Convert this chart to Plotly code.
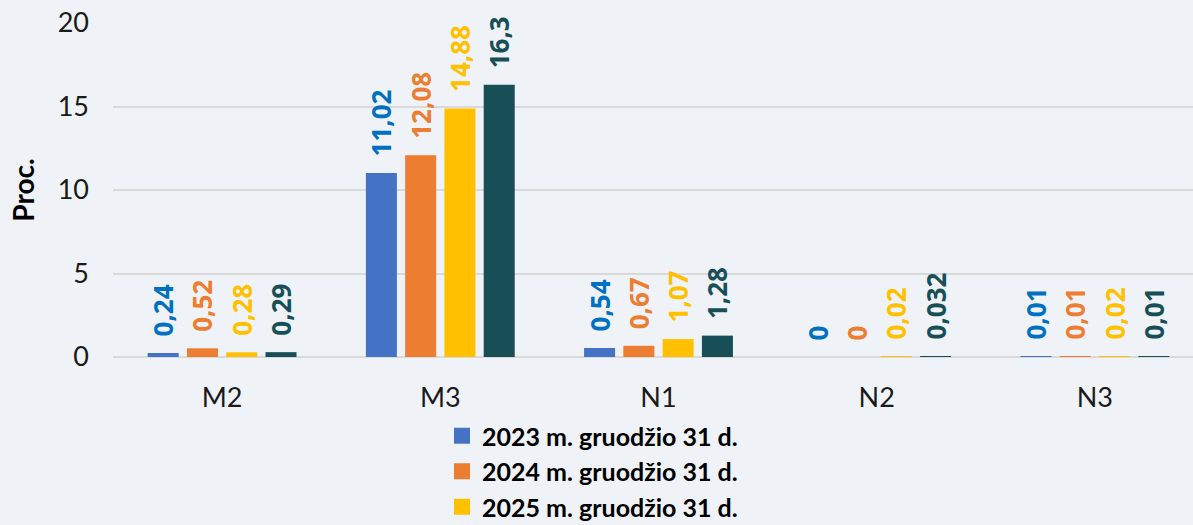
import plotly.graph_objects as go

# Categories and series values (percent)
categories = ["M2", "M3", "N1", "N2", "N3"]
series_names = [
    "2023 m. gruodžio 31 d.",
    "2024 m. gruodžio 31 d.",
    "2025 m. gruodžio 31 d.",
    "2026 m. gruodžio 31 d.",
]
values_2023 = [0.24, 11.02, 0.54, 0, 0.01]
values_2024 = [0.52, 12.08, 0.67, 0, 0.01]
values_2025 = [0.28, 14.88, 1.07, 0.02, 0.02]
values_2026 = [0.29, 16.3, 1.28, 0.032, 0.01]

bar_colors = ["#4472C4", "#ED7D31", "#FFC000", "#184F57"]
label_colors = ["#0070C0", "#ED7D31", "#FFC000", "#184F57"]
bg = "#EFF3F7"

all_values = [values_2023, values_2024, values_2025, values_2026]
legend_count = 3  # only the first three entries fit on the page


def fmt(v):
    # decimal comma, with a small lead-in so the rotated label floats above the bar
    return "\u00a0\u00a0" + f"{v:g}".replace(".", ",")


fig = go.Figure()
for i, (name, vals) in enumerate(zip(series_names, all_values)):
    fig.add_trace(
        go.Bar(
            x=categories,
            y=vals,
            name=name,
            legendgroup=name,
            marker=dict(color=bar_colors[i], line=dict(width=0)),
            text=[fmt(v) for v in vals],
            textposition="outside",
            textangle=-90,
            constraintext="none",
            cliponaxis=False,
            textfont=dict(family="Open Sans", size=26, color=label_colors[i], weight="bold"),
            showlegend=False,
            hoverinfo="skip",
        )
    )

# Legend entries with larger square swatches
for i in range(legend_count):
    fig.add_trace(
        go.Scatter(
            x=[None],
            y=[None],
            mode="markers",
            name=series_names[i],
            legendgroup=series_names[i],
            marker=dict(symbol="square", size=18, color=bar_colors[i]),
            showlegend=True,
            hoverinfo="skip",
        )
    )

plot_left = 113
plot_top = 23
plot_bottom_px = 357
plot_right_extent = 1204  # right edge of the last category band
width, height = 1193, 525
cat_w = (plot_right_extent - plot_left) / 5
x_max = 4.5 - (plot_right_extent - width) / cat_w
plot_h = plot_bottom_px - plot_top

fig.update_layout(
    width=width,
    height=height,
    margin=dict(l=plot_left, r=0, t=plot_top, b=height - plot_bottom_px, autoexpand=False),
    paper_bgcolor=bg,
    plot_bgcolor=bg,
    barmode="group",
    bargap=0.28,
    bargroupgap=0.21,
    font=dict(family="Lato", color="#000000"),
    xaxis=dict(
        type="category",
        range=[-0.5, x_max],
        automargin=False,
        tickfont=dict(family="Lato", size=27, color="#1a1a1a"),
        showgrid=False,
        showline=False,
        ticks="",
        ticklabelstandoff=22,
    ),
    yaxis=dict(
        range=[0, 20],
        dtick=5,
        automargin=False,
        tickfont=dict(family="Lato", size=27, color="#1a1a1a"),
        gridcolor="#D9D9D9",
        gridwidth=2,
        zeroline=True,
        zerolinecolor="#D9D9D9",
        zerolinewidth=2,
        showline=False,
        ticks="",
        ticklabelstandoff=23,
        title=dict(text="<b>Proc.</b>", font=dict(family="Lato", size=28, color="#000000"), standoff=14),
    ),
    legend=dict(
        orientation="v",
        x=(442 - plot_left) / (width - plot_left),
        xanchor="left",
        y=-(413 - plot_bottom_px) / plot_h,
        yanchor="top",
        font=dict(family="Lato", size=25, color="#000000", weight="bold"),
        bgcolor="rgba(0,0,0,0)",
        tracegroupgap=0,
    ),
)

fig.write_html("out.html")
